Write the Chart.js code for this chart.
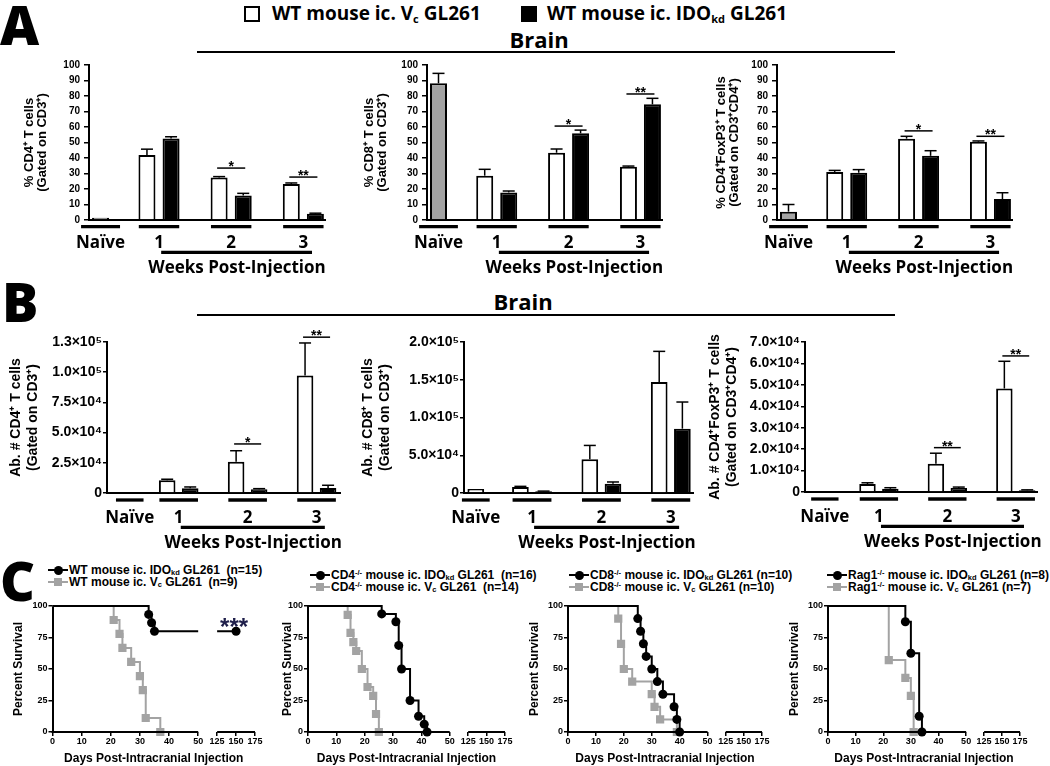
<!DOCTYPE html>
<html>
<head>
<meta charset="utf-8">
<title>IDO knockdown GL261 – brain T cells and survival</title>
<script src="https://cdn.jsdelivr.net/npm/chart.js@4.4.1/dist/chart.umd.min.js"></script>
<style>
  html, body { margin: 0; background: #fff; }
  #figure { position: relative; width: 1050px; height: 766px; overflow: hidden; color: #000; }
  #figure canvas, .abs { position: absolute; }
  .letter { font: 800 54px 'Open Sans', sans-serif; line-height: 1; }
  .brain { font: bold 22px 'Open Sans', sans-serif; line-height: 1; transform: translateX(-50%); }
  .rule { height: 2px; background: #000; }
  .key { font: bold 19px 'Open Sans', sans-serif; line-height: 1; white-space: nowrap; }
  .key sub { font-size: 11px; vertical-align: -3px; line-height: 0; }
  .swatch { width: 12px; height: 12px; border: 2px solid #000; }
  .ckey { font: bold 12px 'Liberation Sans', Arial, sans-serif; line-height: 1; white-space: nowrap; }
  .ckey sub, .ckey sup { font-size: 7.5px; line-height: 0; }
  .ckey sub { vertical-align: -1px; }
  .ckey sup { vertical-align: 4px; }
</style>
</head>
<body>
<div id="figure">
  <div class="abs letter" style="left:0;top:-3px">A</div>
  <div class="abs letter" style="left:2px;top:274px">B</div>
  <div class="abs letter" style="left:0;top:553px">C</div>

  <div class="abs swatch" style="left:244px;top:6px;background:#fff"></div>
  <div class="abs key" style="left:272px;top:4px">WT mouse ic. V<sub>c</sub> GL261</div>
  <div class="abs swatch" style="left:521px;top:6px;background:#000"></div>
  <div class="abs key" style="left:547px;top:4px">WT mouse ic. IDO<sub>kd</sub> GL261</div>

  <div class="abs brain" style="left:539px;top:28px">Brain</div>
  <div class="abs rule" style="left:197px;top:51px;width:698px"></div>
  <div class="abs brain" style="left:523px;top:290px">Brain</div>
  <div class="abs rule" style="left:197px;top:314px;width:698px"></div>
</div>

<script>
// ---------- data ----------
const groupLabels = ['Naïve', '1', '2', '3'];
const weeksTitle = 'Weeks Post-Injection';

// Panel A: % of gated cells, [mean, SEM] for naïve, then weeks 1-3
const cd4PctNaive = [1.5, 0];
const cd4PctVc = [42, 27.5, 23.3];
const cd4PctVcSem = [3.7, 0.5, 0.6];
const cd4PctIdo = [52.6, 15.8, 4.0];
const cd4PctIdoSem = [1.1, 1.4, 0.4];
const cd4PctStars = ['', '*', '**'];
const cd4PctStarAt = [0, 33.5, 27.7];

const cd8PctNaive = [88.2, 6.4];
const cd8PctVc = [28.6, 43.4, 34.4];
const cd8PctVcSem = [4.1, 2.4, 0.4];
const cd8PctIdo = [17.8, 55.9, 74.6];
const cd8PctIdoSem = [0.9, 2.1, 3.9];
const cd8PctStars = ['', '*', '**'];
const cd8PctStarAt = [0, 60.6, 81.3];

const tregPctNaive = [5.4, 4.6];
const tregPctVc = [31, 52.5, 50.5];
const tregPctVcSem = [1, 1.5, 0.5];
const tregPctIdo = [30.5, 41.4, 13.5];
const tregPctIdoSem = [2, 3.3, 4.1];
const tregPctStars = ['', '*', '**'];
const tregPctStarAt = [0, 57.5, 54];

// Panel B: absolute numbers
const cd4AbsNaive = [null, 0];
const cd4AbsVc = [10500, 25800, 97200];
const cd4AbsVcSem = [900, 9200, 27000];
const cd4AbsIdo = [3900, 3100, 4200];
const cd4AbsIdoSem = [1100, 500, 2200];
const cd4AbsStars = ['', '*', '**'];
const cd4AbsStarAt = [0, 40600, 129000];

const cd8AbsNaive = [5300, 0];
const cd8AbsVc = [7900, 44600, 147000];
const cd8AbsVcSem = [900, 18400, 40600];
const cd8AbsIdo = [2200, 12400, 85200];
const cd8AbsIdoSem = [300, 2200, 35300];
const cd8AbsStars = ['', '', ''];
const cd8AbsStarAt = [0, 0, 0];

const tregAbsNaive = [null, 0];
const tregAbsVc = [3700, 13200, 48300];
const tregAbsVcSem = [600, 4900, 12700];
const tregAbsIdo = [1500, 1900, 800];
const tregAbsIdoSem = [500, 400, 200];
const tregAbsStars = ['', '**', '**'];
const tregAbsStarAt = [0, 20700, 63500];

// Panel C: Kaplan-Meier steps (day, % survival)
const dayTicks = [0, 10, 20, 30, 40, 50, 125, 150, 175];

const wtIdoDays = [0, 33, 34, 35, 150];
const wtIdoSurv = [100, 93.3, 86.7, 80, 80];
const wtVcDays = [0, 21, 23, 24, 27, 30, 31, 32, 37];
const wtVcSurv = [100, 88.9, 77.8, 66.7, 55.6, 44.4, 33.3, 11.1, 0];

const cd4KoIdoDays = [0, 26, 31, 32, 33, 36, 39, 41, 42];
const cd4KoIdoSurv = [100, 93.75, 87.5, 68.75, 50, 25, 12.5, 6.25, 0];
const cd4KoVcDays = [0, 14, 15, 16, 17, 19, 21, 23, 24, 25];
const cd4KoVcSurv = [100, 92.9, 78.6, 71.4, 64.3, 50, 35.7, 28.6, 14.3, 0];

const cd8KoIdoDays = [0, 25, 26, 27, 28, 30, 32, 34, 38, 39, 40];
const cd8KoIdoSurv = [100, 90, 80, 70, 60, 50, 40, 30, 20, 10, 0];
const cd8KoVcDays = [0, 18, 19, 20, 23, 30, 31, 33, 39];
const cd8KoVcSurv = [100, 90, 70, 50, 40, 30, 20, 10, 0];

const ragIdoDays = [0, 28, 30, 33, 34];
const ragIdoSurv = [100, 87.5, 62.5, 12.5, 0];
const ragVcDays = [0, 22, 28, 30, 31];
const ragVcSurv = [100, 57.1, 42.9, 28.6, 0];

const wtStars = '***';

// ---------- styling ----------
const AXIS_FONT = "'Liberation Sans', Arial, sans-serif";
const LABEL_FONT = "'Open Sans', sans-serif";
const GRAY = '#a3a3a3';
const BAR_OFFSET = 0.167;   // half the distance between paired bars, in group units
Chart.defaults.font.family = AXIS_FONT;
Chart.defaults.color = '#000';

function makeCanvas(L) {
  const c = document.createElement('canvas');
  c.width = L.w;
  c.height = L.h;
  c.style.left = L.left + 'px';
  c.style.top = L.top + 'px';
  document.getElementById('figure').appendChild(c);
  return c;
}

function seg(ctx, x0, y0, x1, y1) {
  ctx.beginPath();
  ctx.moveTo(x0, y0);
  ctx.lineTo(x1, y1);
  ctx.stroke();
}

const SUPERS = '⁰¹²³⁴⁵⁶⁷⁸⁹';
function sciTick(v) {
  if (v === 0) return '0';
  const e = Math.floor(Math.log10(v) + 1e-9);
  return (v / Math.pow(10, e)).toFixed(1) + '×10' + SUPERS[e];
}

// ---------- bar panels (A, B) ----------
function barPanel(L, d) {
  const pos = [L.naivePos, 1, 2, 3];
  const bars = [];
  if (d.naive[0] != null) bars.push({ x: pos[0], v: d.naive[0], e: d.naive[1] });
  d.vc.forEach((v, i) => bars.push({ x: pos[i + 1] - BAR_OFFSET, v, e: d.vcSem[i] }));
  d.ido.forEach((v, i) => bars.push({ x: pos[i + 1] + BAR_OFFSET, v, e: d.idoSem[i] }));

  const barSet = (pts, fill) => ({
    type: 'bar', data: pts, backgroundColor: fill, borderColor: '#000',
    borderWidth: 2, grouped: false, maxBarThickness: 17
  });

  const decor = {
    id: 'decor',
    afterDraw(chart) {
      const { ctx, chartArea: ca, scales: { x, y } } = chart;
      const px = v => x.getPixelForValue(v);
      const py = v => y.getPixelForValue(v);
      ctx.save();
      ctx.strokeStyle = '#000';
      ctx.fillStyle = '#000';

      // error bars (SEM, upward only)
      ctx.lineWidth = 1.5;
      bars.forEach(b => {
        if (!b.e) return;
        const cx = px(b.x), y0 = py(b.v), y1 = py(b.v + b.e);
        seg(ctx, cx, y0, cx, y1);
        seg(ctx, cx - 6, y1, cx + 6, y1);
      });

      // significance brackets
      ctx.font = 'bold 14px ' + AXIS_FONT;
      ctx.textAlign = 'center';
      ctx.textBaseline = 'alphabetic';
      d.stars.forEach((s, i) => {
        if (!s) return;
        const x0 = px(pos[i + 1] - BAR_OFFSET) - 2;
        const x1 = px(pos[i + 1] + BAR_OFFSET) + 2;
        const yy = py(d.starAt[i]);
        seg(ctx, x0, yy, x1, yy);
        ctx.fillText(s, (x0 + x1) / 2, yy + 3);
      });

      // group underlines + weeks bracket
      ctx.lineWidth = 3.3;
      pos.forEach((p, i) => {
        const hw = i === 0 ? L.naiveHalf : 0.28;
        seg(ctx, px(p - hw), ca.bottom + L.ulY, px(p + hw), ca.bottom + L.ulY);
      });
      seg(ctx, px(pos[1] + 0.03), ca.bottom + L.wkLineY, px(pos[3] + 0.12), ca.bottom + L.wkLineY);

      ctx.font = 'bold 17px ' + LABEL_FONT;
      groupLabels.forEach((t, i) => ctx.fillText(t, px(pos[i]), ca.bottom + L.lblY));
      ctx.fillText(weeksTitle, px(pos[2] + 0.08), ca.bottom + L.wkTextY);
      ctx.restore();
    }
  };

  new Chart(makeCanvas(L), {
    type: 'bar',
    data: {
      datasets: [
        barSet(d.naive[0] != null ? [{ x: pos[0], y: d.naive[0] }] : [], L.naiveFill),
        barSet(d.vc.map((v, i) => ({ x: pos[i + 1] - BAR_OFFSET, y: v })), '#fff'),
        barSet(d.ido.map((v, i) => ({ x: pos[i + 1] + BAR_OFFSET, y: v })), '#000')
      ]
    },
    options: {
      responsive: false, animation: false, events: [], devicePixelRatio: 1,
      layout: { padding: { top: L.padTop, right: 8, left: 0, bottom: 0 } },
      plugins: { legend: { display: false }, tooltip: { enabled: false } },
      scales: {
        x: {
          type: 'linear', min: L.xMin, max: L.xMax, offset: false,
          afterFit: s => { s.height = L.xH; },
          ticks: { display: false },
          grid: { display: false },
          border: { display: true, color: '#000', width: 2 }
        },
        y: {
          min: 0, max: d.yMax,
          afterFit: s => { s.width = L.yW; },
          ticks: {
            stepSize: d.yStep, padding: L.tickPad, color: '#000',
            font: { family: AXIS_FONT, size: L.tickSize, weight: 'bold' },
            callback: d.sci ? sciTick : v => v
          },
          grid: { drawOnChartArea: false, color: '#000', lineWidth: 1.5, tickLength: L.tickLen },
          border: { display: true, color: '#000', width: 2 },
          title: {
            display: true, text: d.title, color: '#000', padding: 0,
            font: { family: AXIS_FONT, size: L.titleSize, weight: 'bold', lineHeight: L.titleLh }
          }
        }
      }
    },
    plugins: [decor]
  });
}

const A_STYLE = { top: 55, h: 225, padTop: 10, xH: 60, xMin: 0.03, xMax: 3.3, naivePos: 0.19, naiveHalf: 0.27,
  naiveFill: GRAY, ulY: 6.7, wkLineY: 32.3, lblY: 28, wkTextY: 52.7,
  tickSize: 10, tickPad: 4, tickLen: 5, titleSize: 13, titleLh: 1.02 };
const B_STYLE = { top: 318, padTop: 24, xH: 62, naiveHalf: 0.2, naiveFill: '#fff',
  ulY: 7, wkLineY: 34.3, lblY: 29.7, wkTextY: 55,
  tickSize: 14, tickPad: 1, tickLen: 4, titleSize: 14, titleLh: 1.18 };

barPanel({ ...A_STYLE, left: 23, w: 310, yW: 66 }, {
  naive: cd4PctNaive, vc: cd4PctVc, vcSem: cd4PctVcSem, ido: cd4PctIdo, idoSem: cd4PctIdoSem,
  stars: cd4PctStars, starAt: cd4PctStarAt, yMax: 100, yStep: 10,
  title: ['% CD4⁺ T cells', '(Gated on CD3⁺)']
});
barPanel({ ...A_STYLE, left: 363, w: 307, yW: 64 }, {
  naive: cd8PctNaive, vc: cd8PctVc, vcSem: cd8PctVcSem, ido: cd8PctIdo, idoSem: cd8PctIdoSem,
  stars: cd8PctStars, starAt: cd8PctStarAt, yMax: 100, yStep: 10,
  title: ['% CD8⁺ T cells', '(Gated on CD3⁺)']
});
barPanel({ ...A_STYLE, left: 715, w: 305, yW: 62 }, {
  naive: tregPctNaive, vc: tregPctVc, vcSem: tregPctVcSem, ido: tregPctIdo, idoSem: tregPctIdoSem,
  stars: tregPctStars, starAt: tregPctStarAt, yMax: 100, yStep: 10,
  title: ['% CD4⁺FoxP3⁺ T cells', '(Gated on CD3⁺CD4⁺)']
});

barPanel({ ...B_STYLE, left: 8, w: 340, h: 237, yW: 99, xMin: -0.04, xMax: 3.34, naivePos: 0.29 }, {
  naive: cd4AbsNaive, vc: cd4AbsVc, vcSem: cd4AbsVcSem, ido: cd4AbsIdo, idoSem: cd4AbsIdoSem,
  stars: cd4AbsStars, starAt: cd4AbsStarAt, yMax: 125000, yStep: 25000, sci: true,
  title: ['Ab. # CD4⁺ T cells', '(Gated on CD3⁺)']
});
barPanel({ ...B_STYLE, left: 360, w: 341, h: 237, yW: 104, xMin: 0.02, xMax: 3.32, naivePos: 0.19 }, {
  naive: cd8AbsNaive, vc: cd8AbsVc, vcSem: cd8AbsVcSem, ido: cd8AbsIdo, idoSem: cd8AbsIdoSem,
  stars: cd8AbsStars, starAt: cd8AbsStarAt, yMax: 200000, yStep: 50000, sci: true,
  title: ['Ab. # CD8⁺ T cells', '(Gated on CD3⁺)']
});
barPanel({ ...B_STYLE, left: 707, w: 338, h: 236, yW: 98, xMin: -0.08, xMax: 3.31, naivePos: 0.21 }, {
  naive: tregAbsNaive, vc: tregAbsVc, vcSem: tregAbsVcSem, ido: tregAbsIdo, idoSem: tregAbsIdoSem,
  stars: tregAbsStars, starAt: tregAbsStarAt, yMax: 70000, yStep: 10000, sci: true,
  title: ['Ab. # CD4⁺FoxP3⁺ T cells', '(Gated on CD3⁺CD4⁺)']
});

// ---------- survival panels (C) ----------
// broken day axis: 0-50 full width, then a gap, then 125-175 compressed
const DAY_GAP = 6.5, DAY_SQUEEZE = 0.26;
function warpDay(d) { return d <= 50 ? d : 50 + DAY_GAP + (d - 125) * DAY_SQUEEZE; }

class BrokenDayScale extends Chart.LinearScale {
  static id = 'brokenDays';
  getPixelForValue(v) { return this.getPixelForDecimal(warpDay(v) / warpDay(this.max)); }
}
Chart.register(BrokenDayScale);

function survKey(L, rows) {
  const fig = document.getElementById('figure');
  rows.forEach((r, i) => {
    const cy = L.keyY + i * 12;
    const line = document.createElement('div');
    line.className = 'abs';
    Object.assign(line.style, { left: L.keyX + 'px', top: (cy - 1) + 'px', width: '20px', height: '2px', background: r.color });
    const mk = document.createElement('div');
    mk.className = 'abs';
    const s = r.square ? 8 : 9;
    Object.assign(mk.style, { left: (L.keyX + 10 - s / 2) + 'px', top: (cy - s / 2) + 'px', width: s + 'px', height: s + 'px',
      background: r.color, borderRadius: r.square ? '0' : '50%' });
    const tx = document.createElement('div');
    tx.className = 'abs ckey';
    Object.assign(tx.style, { left: (L.keyX + 21) + 'px', top: (cy - 5.9) + 'px' });
    tx.innerHTML = r.text;
    fig.append(line, mk, tx);
  });
}

function survivalPanel(L, black, gray, stars) {
  const steps = (days, surv, color, style, r) => ({
    data: days.map((d, i) => ({ x: d, y: surv[i] })),
    stepped: true, fill: false, borderColor: color, borderWidth: 2,
    pointRadius: days.map((d, i) => (i === 0 ? 0 : r)),
    pointStyle: style, pointBackgroundColor: color, pointBorderColor: color, pointBorderWidth: 0,
    clip: 10
  });

  const brokenAxis = {
    id: 'brokenAxis',
    beforeDatasetsDraw(chart) {
      const { ctx, scales: { x } } = chart;
      const a = x.getPixelForValue(50), b = x.getPixelForValue(125);
      ctx.save();
      ctx.beginPath();
      ctx.rect(0, 0, a, chart.height);
      ctx.rect(b, 0, chart.width - b, chart.height);
      ctx.clip();
    },
    afterDatasetsDraw(chart) { chart.ctx.restore(); },
    afterDraw(chart) {
      const { ctx, chartArea: ca, scales: { x, y } } = chart;
      ctx.save();
      ctx.strokeStyle = '#000';
      ctx.lineWidth = 2;
      seg(ctx, x.getPixelForValue(0) - 1, ca.bottom, x.getPixelForValue(50), ca.bottom);
      seg(ctx, x.getPixelForValue(125), ca.bottom, x.getPixelForValue(175), ca.bottom);
      if (stars) {
        ctx.fillStyle = '#1e1e4a';
        ctx.font = 'bold 24px ' + AXIS_FONT;
        ctx.textAlign = 'center';
        ctx.fillText(stars, x.getPixelForValue(150) - 2, y.getPixelForValue(80) + 3.5);
      }
      ctx.restore();
    }
  };

  new Chart(makeCanvas(L), {
    type: 'line',
    data: {
      datasets: [
        steps(black.days, black.surv, '#000', 'circle', 4.5),
        steps(gray.days, gray.surv, GRAY, 'rect', 5.8)
      ]
    },
    options: {
      responsive: false, animation: false, events: [], devicePixelRatio: 1,
      layout: { padding: { top: 8, right: 8, left: 0, bottom: 0 } },
      plugins: { legend: { display: false }, tooltip: { enabled: false } },
      scales: {
        x: {
          type: 'brokenDays', min: 0, max: 175,
          afterBuildTicks: s => { s.ticks = dayTicks.map(v => ({ value: v })); },
          afterFit: s => { s.height = 34; },
          border: { display: false },
          grid: { drawOnChartArea: false, color: '#000', lineWidth: 1.5, tickLength: 4 },
          ticks: { autoSkip: false, maxRotation: 0, padding: 0, color: '#000', font: { size: 9, weight: 'bold' } },
          title: { display: true, text: 'Days Post-Intracranial Injection', color: '#000', padding: 0,
            font: { size: 12, weight: 'bold', lineHeight: 1.2 } }
        },
        y: {
          min: 0, max: 100,
          afterFit: s => { s.width = L.yW; },
          ticks: { stepSize: 25, padding: 1, color: '#000', font: { size: 9, weight: 'bold' } },
          grid: { drawOnChartArea: false, color: '#000', lineWidth: 1.5, tickLength: 4 },
          border: { display: true, color: '#000', width: 2 },
          title: { display: true, text: 'Percent Survival', color: '#000', padding: 0,
            font: { size: 12, weight: 'bold', lineHeight: 1.2 } }
        }
      }
    },
    plugins: [brokenAxis]
  });
}

const C_STYLE = { top: 598, h: 168 };
const c1 = { ...C_STYLE, left: 11, w: 252, yW: 41.5, keyX: 48, keyY: 570 };
const c2 = { ...C_STYLE, left: 280, w: 233, yW: 28, keyX: 310, keyY: 575 };
const c3 = { ...C_STYLE, left: 527, w: 243, yW: 41, keyX: 569, keyY: 575 };
const c4 = { ...C_STYLE, left: 787, w: 241, yW: 41, keyX: 827, keyY: 575 };

survivalPanel(c1, { days: wtIdoDays, surv: wtIdoSurv }, { days: wtVcDays, surv: wtVcSurv }, wtStars);
survivalPanel(c2, { days: cd4KoIdoDays, surv: cd4KoIdoSurv }, { days: cd4KoVcDays, surv: cd4KoVcSurv });
survivalPanel(c3, { days: cd8KoIdoDays, surv: cd8KoIdoSurv }, { days: cd8KoVcDays, surv: cd8KoVcSurv });
survivalPanel(c4, { days: ragIdoDays, surv: ragIdoSurv }, { days: ragVcDays, surv: ragVcSurv });

survKey(c1, [
  { color: '#000', text: 'WT mouse ic. IDO<sub>kd</sub> GL261&nbsp; (n=15)' },
  { color: GRAY, square: true, text: 'WT mouse ic. V<sub>c</sub> GL261&nbsp; (n=9)' }
]);
survKey(c2, [
  { color: '#000', text: 'CD4<sup>-/-</sup> mouse ic. IDO<sub>kd</sub> GL261&nbsp; (n=16)' },
  { color: GRAY, square: true, text: 'CD4<sup>-/-</sup> mouse ic. V<sub>c</sub> GL261&nbsp; (n=14)' }
]);
survKey(c3, [
  { color: '#000', text: 'CD8<sup>-/-</sup> mouse ic. IDO<sub>kd</sub> GL261 (n=10)' },
  { color: GRAY, square: true, text: 'CD8<sup>-/-</sup> mouse ic. V<sub>c</sub> GL261 (n=10)' }
]);
survKey(c4, [
  { color: '#000', text: 'Rag1<sup>-/-</sup> mouse ic. IDO<sub>kd</sub> GL261 (n=8)' },
  { color: GRAY, square: true, text: 'Rag1<sup>-/-</sup> mouse ic. V<sub>c</sub> GL261 (n=7)' }
]);
</script>
</body>
</html>
